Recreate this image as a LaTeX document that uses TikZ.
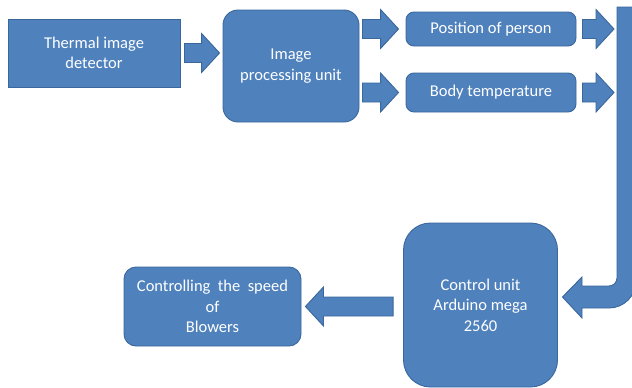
\documentclass[tikz,border=0pt]{standalone}
\usepackage{fontspec}
\setmainfont{Carlito}
\usetikzlibrary{calc, positioning}

\definecolor{boxblue}{HTML}{4F81BD}
\definecolor{boxline}{HTML}{3A679C}

\tikzset{
  block/.style={draw=boxline, fill=boxblue, line width=0.9pt, text=white,
    align=center, inner sep=0pt, font=\fontsize{16.5}{20.5}\selectfont},
  arrowbox/.style={draw=boxline, fill=boxblue, line width=0.9pt},
  gap a/.store in=\gapA, gap b/.store in=\gapB, gap a=3pt, gap b=3pt,
  fatarrow/.style={arrowbox, to path={
    let \p1=(\tikztostart), \p2=(\tikztotarget), \n1={sign(\x2-\x1)} in
    (\x1+\n1*\gapA,\y2+9.5pt) -- ($(\x2,\y2+9.5pt)-(\n1*\gapB+\n1*18pt,0pt)$)
    -- ($(\x2,\y2+19.5pt)-(\n1*\gapB+\n1*18pt,0pt)$) -- ($(\x2,\y2)-(\n1*\gapB,0pt)$)
    -- ($(\x2,\y2-19.5pt)-(\n1*\gapB+\n1*18pt,0pt)$) -- ($(\x2,\y2-9.5pt)-(\n1*\gapB+\n1*18pt,0pt)$)
    -- (\x1+\n1*\gapA,\y2-9.5pt) -- cycle}}
}

\begin{document}
\begin{tikzpicture}[x=1pt, y=-1pt]
  \clip (0,0) rectangle (632,388);
  % Blocks
  \node[block, minimum width=172pt, minimum height=68pt] (thermal) at (94,53) {Thermal image\\detector};
  \node[block, rounded corners=15pt, minimum width=136pt, minimum height=112pt] (ipu) at (291,66) {Image\\processing unit};
  \node[block, rounded corners=8pt, minimum width=170pt, minimum height=34pt] (pos) at (491,29) {Position of person};
  \node[block, rounded corners=8pt, minimum width=170pt, minimum height=39pt] (body) at (491,92.5) {Body temperature};
  \node[block, rounded corners=27pt, minimum width=154pt, minimum height=164pt] (ctrl) at (480.5,305) {Control unit\\Arduino mega\\2560};
  \node[block, rounded corners=12pt, minimum width=177pt, minimum height=79pt] (blow) at (212.5,306.5) {Controlling~~the~~speed\\of\\Blowers};
  \coordinate (bartop) at (617,7);
  % Block arrows
  \draw[fatarrow, gap a=4pt, gap b=3pt] (thermal.east) to (thermal.east -| ipu.west);
  \draw[fatarrow, gap a=3pt, gap b=7pt] (ipu.east |- pos.west) to (pos.west);
  \draw[fatarrow, gap a=3pt, gap b=7pt] (ipu.east |- body.west) to (body.west);
  \draw[fatarrow, gap a=6pt, gap b=3pt] (pos.east) to (pos.east -| bartop);
  \draw[fatarrow, gap a=6pt, gap b=3pt] (body.east) to (body.east -| bartop);
  \draw[fatarrow, gap a=10pt, gap b=4pt] (ctrl.west |- blow.east) to (blow.east);
  % Bent arrow into the control unit
  \draw[arrowbox] (bartop) -- (617,278) arc[start angle=0, end angle=90, radius=8]
    -- (582,286) -- (582,277) -- ($(ctrl.east)+(4.5,-8)$) -- (582,318) -- (582,308)
    -- (609,308) arc[start angle=90, end angle=0, radius=27] -- (636,7) -- cycle;
\end{tikzpicture}
\end{document}
